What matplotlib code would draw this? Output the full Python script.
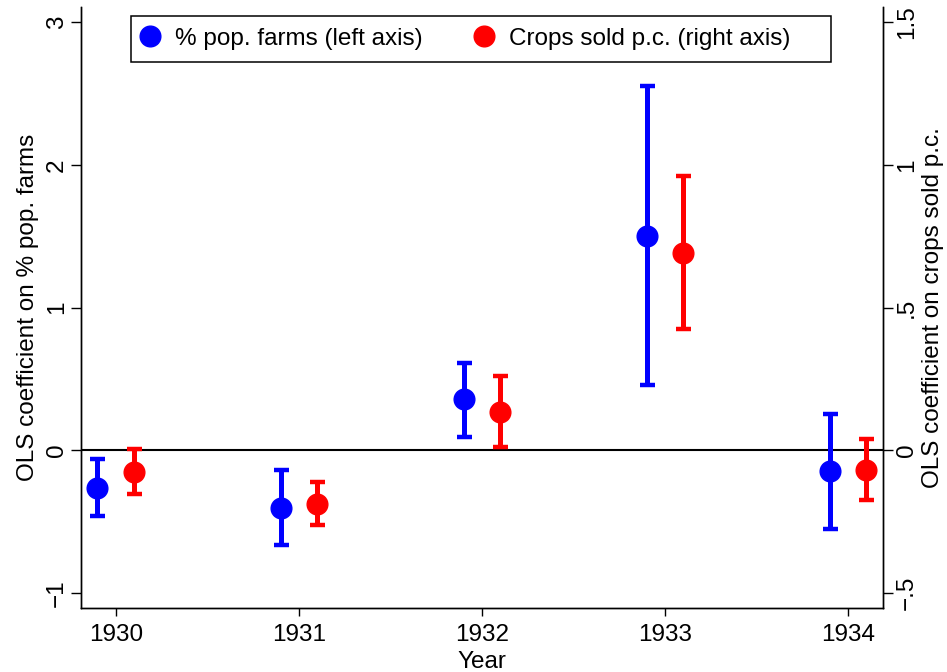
import matplotlib
matplotlib.use("Agg")
import matplotlib.pyplot as plt
from matplotlib.lines import Line2D
from matplotlib.patches import Rectangle
import numpy as np

plt.rcParams['font.family'] = ['Liberation Sans', 'DejaVu Sans']

years = [1930, 1931, 1932, 1933, 1934]
farms_coef = [-0.26, -0.40, 0.357, 1.503, -0.147]
farms_lo = [-0.462, -0.662, 0.096, 0.455, -0.552]
farms_hi = [-0.061, -0.135, 0.611, 2.552, 0.257]
crops_coef = [-0.076, -0.186, 0.134, 0.691, -0.068]
crops_lo = [-0.154, -0.262, 0.0105, 0.426, -0.175]
crops_hi = [0.006, -0.111, 0.26, 0.962, 0.041]

left_ticks = [-1, 0, 1, 2, 3]
left_labels = ["\u22121", "0", "1", "2", "3"]
right_ticks = [-0.5, 0, 0.5, 1, 1.5]
right_labels = ["\u2212.5", "0", ".5", "1", "1.5"]

W, H, DPI = 947, 672, 100
fs = 17.5
fs_px = fs * DPI / 72

fig = plt.figure(figsize=(W / DPI, H / DPI), dpi=DPI)
ax_l, ax_r, ax_b, ax_t = 81, 882.7, 608.3, 7
ax = fig.add_axes([ax_l / W, (H - ax_b) / H, (ax_r - ax_l) / W, (ax_b - ax_t) / H])
ax2 = ax.twinx()

ylo, yhi = -1.105, 3.105
ax.set_ylim(ylo, yhi)
ax2.set_ylim(ylo / 2, yhi / 2)
ax.set_xlim(1929.81, 1934.19)

x = np.array(years, dtype=float)
off = 0.1
blue = (0, 0, 1)
red = (1, 0, 0)

ax.axhline(0, color='black', lw=1.5, zorder=1)

fc = np.array(farms_coef)
ax.errorbar(x - off, fc, yerr=[fc - np.array(farms_lo), np.array(farms_hi) - fc],
            fmt='o', color=blue, ms=14.9, elinewidth=3.6, capsize=5.4, capthick=3.2, zorder=3)
cc = np.array(crops_coef)
ax2.errorbar(x + off, cc, yerr=[cc - np.array(crops_lo), np.array(crops_hi) - cc],
             fmt='o', color=red, ms=14.9, elinewidth=3.6, capsize=5.4, capthick=3.2, zorder=3)

ax.set_xticks(years)
ax.set_xticklabels([str(y) for y in years], fontsize=fs)
ax.set_yticks(left_ticks)
ax.set_yticklabels(left_labels, fontsize=fs, rotation=90, va='center')
ax2.set_yticks(right_ticks)
ax2.set_yticklabels(right_labels, fontsize=fs, rotation=90, va='center')

ax.tick_params(axis='x', length=6, width=1, pad=5)
ax.tick_params(axis='y', length=7.5, width=1, pad=2)
ax2.tick_params(axis='y', length=7.5, width=1, pad=2)

for a in (ax, ax2):
    a.spines['top'].set_visible(False)
    for s in ('left', 'right', 'bottom'):
        a.spines[s].set_linewidth(1.0)

ax.set_xlabel("Year", fontsize=fs, labelpad=4)
ax.set_ylabel("OLS coefficient on % pop. farms", fontsize=fs, labelpad=5)
ax2.set_ylabel("OLS coefficient on crops sold p.c.", fontsize=fs, labelpad=3, rotation=90)

# legend
handles = [Line2D([], [], marker='o', color=blue, ls='none', ms=14.9),
           Line2D([], [], marker='o', color=red, ls='none', ms=14.9)]
hl = 0.9
leg_x = 150 - hl * fs_px / 2
leg_yc = 38.7
leg = fig.legend(handles, ["% pop. farms (left axis)", "Crops sold p.c. (right axis)"],
                 loc='center left', bbox_to_anchor=(leg_x / W, (H - leg_yc) / H),
                 ncol=2, frameon=False, fontsize=fs, handlelength=hl,
                 handletextpad=0.56, columnspacing=2.1, borderpad=0, borderaxespad=0)
box_l, box_r, box_t, box_b = 130.7, 831, 15.7, 61.7
fig.patches.append(Rectangle((box_l / W, (H - box_b) / H), (box_r - box_l) / W, (box_b - box_t) / H,
                             transform=fig.transFigure, fill=True, facecolor='white',
                             edgecolor='black', lw=1.1, zorder=0))

fig.savefig("out.png", dpi=DPI)
